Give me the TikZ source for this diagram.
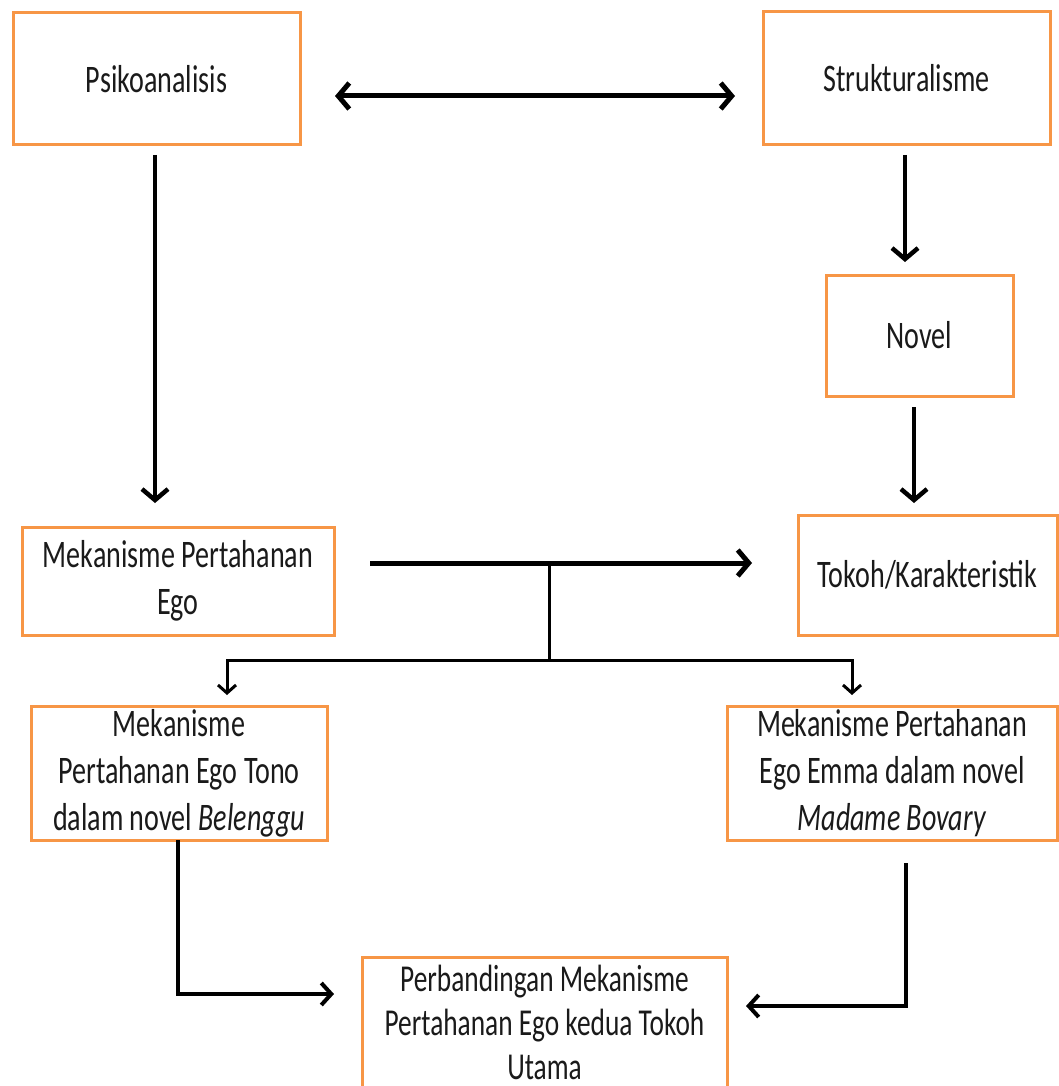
\documentclass[tikz,border=0pt]{standalone}
\usepackage{fontspec}
\setmainfont{Carlito}[FakeStretch=0.72]
\usetikzlibrary{arrows.meta}
\definecolor{boxorange}{HTML}{F79646}
\definecolor{txt}{HTML}{1A1A1A}
\begin{document}
\begin{tikzpicture}[x=1pt,y=-1pt,
  box/.style={draw=boxorange,line width=3pt,inner sep=0pt,align=center,text=txt,
    font=\fontsize{39}{47}\selectfont},
  bigarrow/.style={line width=4.5pt,-{Straight Barb[length=11pt,width=26pt]}},
  bigboth/.style={line width=5pt,{Straight Barb[length=11pt,width=26pt]}-{Straight Barb[length=11pt,width=26pt]}},
  thinline/.style={line width=3pt},
  smallarrow/.style={line width=3pt,-{Straight Barb[length=8pt,width=18pt]}},
  midarrow/.style={line width=4pt,-{Straight Barb[length=10pt,width=22pt]}}]
\useasboundingbox (0,0) rectangle (1059,1086);
\clip (0,0) rectangle (1059,1086);
\fill[white] (0,0) rectangle (1059,1086);

\node[box,minimum width=287pt,minimum height=132pt] (psi) at (156.5,79) {Psikoanalisis};
\node[box,minimum width=287pt,minimum height=133pt] (str) at (906.5,78.5) {Strukturalisme};
\node[box,minimum width=187pt,minimum height=121pt] (nov) at (919.5,335.5) {Novel};
\node[box,minimum width=259pt,minimum height=120pt] (tok) at (927.5,575) {Tokoh/Karakteristik};
\node[box,minimum width=312pt,minimum height=108pt] (mpe) at (178,581) {Mekanisme Pertahanan\\Ego};
\node[box,minimum width=296pt,minimum height=134pt] (ton) at (179,773) {Mekanisme\\Pertahanan Ego Tono\\dalam novel \textit{Belenggu}};
\node[box,minimum width=330pt,minimum height=134pt] (emm) at (892,773) {Mekanisme Pertahanan\\Ego Emma dalam novel\\\textit{Madame Bovary}};
\node[box,minimum width=365pt,minimum height=130pt,font=\fontsize{38}{44}\selectfont] (cmp) at (544.5,1022) {Perbandingan Mekanisme\\Pertahanan Ego kedua Tokoh\\Utama};

% coordinates for connector ends and bends
\coordinate (da1) at (335,96);
\coordinate (da2) at (735,96);
\coordinate (pa1) at (155,155);
\coordinate (pa2) at (155,503);
\coordinate (sa1) at (905,155);
\coordinate (sa2) at (905,262);
\coordinate (na1) at (914,407);
\coordinate (na2) at (914,503);
\coordinate (ha1) at (370,563);
\coordinate (ha2) at (752,563);
\coordinate (tj) at (549,563);
\coordinate (tb) at (549,660);
\coordinate (bl) at (227,660);
\coordinate (br) at (852,660);
\coordinate (blt) at (227,695);
\coordinate (brt) at (852,695);
\coordinate (lc1) at (178,840);
\coordinate (lc2) at (178,994);
\coordinate (lc3) at (334,994);
\coordinate (rc1) at (906,863);
\coordinate (rc2) at (906,1006);
\coordinate (rc3) at (746,1006);

\draw[bigboth] (da1) -- (da2);
\draw[bigarrow] (pa1) -- (pa2);
\draw[bigarrow] (sa1) -- (sa2);
\draw[bigarrow] (na1) -- (na2);
\draw[bigarrow,line width=5pt] (ha1) -- (ha2);
\draw[thinline] (tj) -- (tb);
\draw[smallarrow] (tb) -- (bl) -- (blt);
\draw[smallarrow] (tb) -- (br) -- (brt);
\draw[midarrow] (lc1) -- (lc2) -- (lc3);
\draw[midarrow] (rc1) -- (rc2) -- (rc3);
\end{tikzpicture}
\end{document}
